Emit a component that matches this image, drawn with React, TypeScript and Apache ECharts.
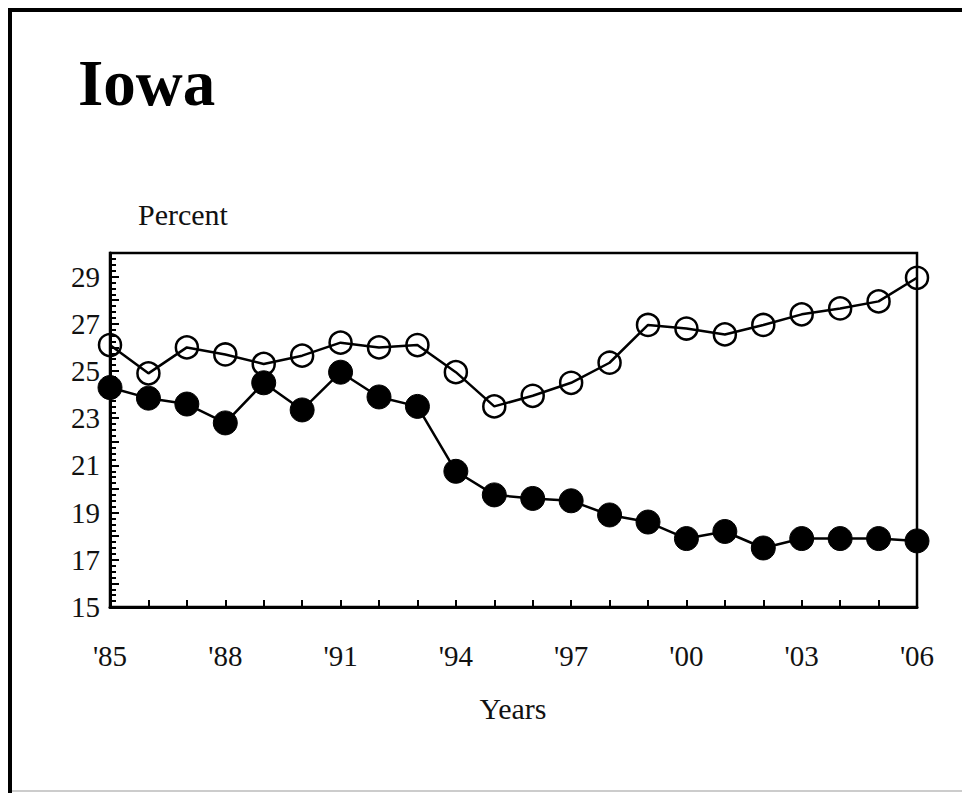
import React, { useEffect, useRef } from "react";
import * as echarts from "echarts";

const years = [1985, 1986, 1987, 1988, 1989, 1990, 1991, 1992, 1993, 1994, 1995, 1996, 1997, 1998, 1999, 2000, 2001, 2002, 2003, 2004, 2005, 2006];
const openSeries = [26.1, 24.9, 26.0, 25.7, 25.3, 25.65, 26.2, 26.0, 26.1, 24.95, 23.5, 23.95, 24.5, 25.35, 26.95, 26.8, 26.55, 26.95, 27.4, 27.65, 27.95, 28.95];
const filledSeries = [24.3, 23.85, 23.6, 22.8, 24.5, 23.35, 24.95, 23.9, 23.5, 20.75, 19.75, 19.6, 19.5, 18.9, 18.6, 17.9, 18.2, 17.5, 17.9, 17.9, 17.9, 17.8];
const yLabelValues = [15, 17, 19, 21, 23, 25, 27, 29];
const xLabelYears = [1985, 1988, 1991, 1994, 1997, 2000, 2003, 2006];

const FONT = "'Liberation Serif', 'Times New Roman', serif";

export default function App() {
  const ref = useRef<HTMLDivElement>(null);
  useEffect(() => {
    if (!ref.current) return;
    const chart = echarts.init(ref.current, null, { renderer: "svg" });
    chart.setOption({
      animation: false,
      backgroundColor: "#fff",
      grid: {
        left: 110,
        right: 45,
        top: 253,
        bottom: 186,
        show: true,
        borderColor: "#000",
        borderWidth: 2.5,
        backgroundColor: "transparent",
      },
      xAxis: {
        type: "value",
        min: 1985,
        max: 2006,
        interval: 1,
        axisLine: { show: true, lineStyle: { color: "#000", width: 3 } },
        axisTick: { show: true, inside: true, length: 7, lineStyle: { color: "#000", width: 2 } },
        splitLine: { show: false },
        axisLabel: {
          margin: 34,
          color: "#111",
          fontFamily: FONT,
          fontSize: 29,
          formatter: (v: number) => (xLabelYears.includes(v) ? "'" + String(v).slice(2) : ""),
        },
      },
      yAxis: {
        type: "value",
        min: 15,
        max: 30,
        interval: 1,
        axisLine: { show: true, lineStyle: { color: "#000", width: 3 } },
        axisTick: { show: true, inside: true, length: 9, lineStyle: { color: "#000", width: 2 } },
        minorTick: { show: true, splitNumber: 4, length: 6, lineStyle: { color: "#000", width: 2 } },
        splitLine: { show: false },
        minorSplitLine: { show: false },
        axisLabel: {
          margin: 10,
          color: "#111",
          fontFamily: FONT,
          fontSize: 29,
          formatter: (v: number) => (yLabelValues.includes(v) ? String(v) : ""),
        },
      },
      series: [
        {
          type: "line",
          data: years.map((y, i) => [y, filledSeries[i]]),
          symbol: "circle",
          symbolSize: 24,
          clip: false,
          lineStyle: { color: "#000", width: 2.5 },
          itemStyle: { color: "#000", borderColor: "#000", borderWidth: 1 },
          z: 3,
        },
        {
          type: "line",
          data: years.map((y, i) => [y, openSeries[i]]),
          symbol: "circle",
          symbolSize: 22,
          clip: false,
          lineStyle: { color: "#000", width: 2.5 },
          itemStyle: { color: "transparent", borderColor: "#000", borderWidth: 2.5 },
          z: 4,
        },
      ],
      graphic: [
        { type: "line", shape: { x1: 10, y1: 8, x2: 10, y2: 793 }, style: { stroke: "#000", lineWidth: 4 } },
        { type: "line", shape: { x1: 8, y1: 10, x2: 962, y2: 10 }, style: { stroke: "#000", lineWidth: 4 } },
        { type: "line", shape: { x1: 12, y1: 791, x2: 962, y2: 791 }, style: { stroke: "#ccc", lineWidth: 2 } },
        {
          type: "text",
          left: 78,
          top: 50,
          style: { text: "Iowa", font: `bold 65px ${FONT}`, fill: "#000" },
        },
        {
          type: "text",
          left: 138,
          top: 199,
          style: { text: "Percent", font: `30px ${FONT}`, fill: "#111" },
        },
        {
          type: "text",
          x: 513,
          y: 708,
          style: { text: "Years", font: `30px ${FONT}`, fill: "#111", align: "center", verticalAlign: "middle" },
        },
      ],
    });
    return () => chart.dispose();
  }, []);
  return (
    <div
      ref={ref}
      style={{ position: "absolute", left: 0, top: 0, width: 962, height: 793 }}
    />
  );
}
